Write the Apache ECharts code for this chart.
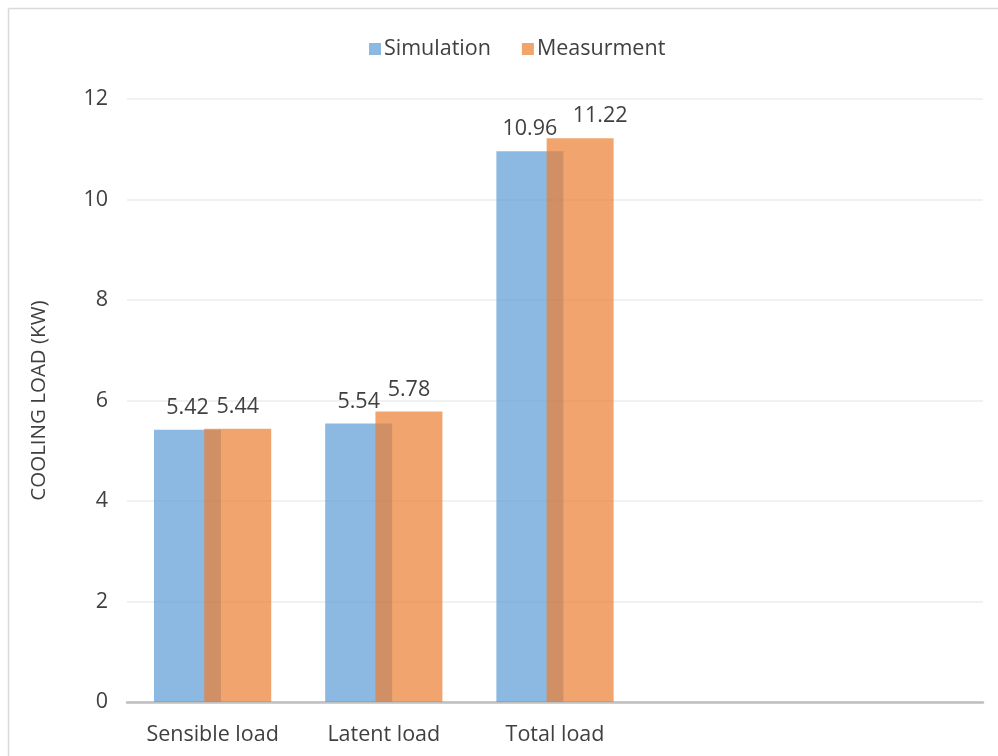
<!DOCTYPE html>
<html>
<head>
<meta charset="utf-8">
<script src="https://cdn.jsdelivr.net/npm/echarts@6/dist/echarts.min.js"></script>
<style>
  html, body { margin: 0; padding: 0; background: #fff; overflow: hidden; }
  #chart { width: 998px; height: 756px; }
</style>
</head>
<body>
<div id="chart"></div>
<script>
// Load categories (two trailing empty slots keep the right side of the plot open)
const categories = ['Sensible load', 'Latent load', 'Total load', '', ''];
const simulation = [5.42, 5.54, 10.96, '-', '-'];
const measurement = [5.44, 5.78, 11.22, '-', '-'];
const yTicks = { min: 0, max: 12, interval: 2 };

const FONT = 'Open Sans';
const TEXT = '#404040';
const FS = 21.5;

const chart = echarts.init(document.getElementById('chart'), null, { renderer: 'canvas' });

const valueLabel = {
  show: true,
  position: 'top',
  distance: 11,
  color: TEXT,
  fontFamily: FONT,
  fontSize: FS
};

// the Total load measurement label is nudged right so it clears its neighbour
const measurementData = measurement.map((v, i) =>
  i === 2 ? { value: v, label: { offset: [20, 0] } } : v
);

chart.setOption({
  backgroundColor: '#ffffff',
  animation: false,
  // chart frame: top and left edges (the rest runs off the page)
  graphic: [
    {
      type: 'line',
      shape: { x1: 8.5, y1: 8.5, x2: 998, y2: 8.5 },
      style: { stroke: '#d9d9d9', lineWidth: 1.5 },
      silent: true
    },
    {
      type: 'line',
      shape: { x1: 8.5, y1: 8.5, x2: 8.5, y2: 756 },
      style: { stroke: '#d9d9d9', lineWidth: 1.5 },
      silent: true
    }
  ],
  legend: {
    top: 33,
    left: 364,
    itemWidth: 12,
    itemHeight: 12,
    itemGap: 31,
    icon: 'rect',
    textStyle: { color: TEXT, fontFamily: FONT, fontSize: FS, padding: [0, 0, 0, -2] },
    data: ['Simulation', 'Measurment']
  },
  grid: { left: 127, right: 15, top: 99, bottom: 54, containLabel: false },
  xAxis: {
    type: 'category',
    data: categories,
    axisLine: { show: true, lineStyle: { color: '#bfbfbf', width: 2.5 } },
    axisTick: { show: false },
    axisLabel: { color: TEXT, fontFamily: FONT, fontSize: FS, margin: 22, interval: 0 }
  },
  yAxis: {
    type: 'value',
    min: yTicks.min,
    max: yTicks.max,
    interval: yTicks.interval,
    name: 'COOLING LOAD (KW)',
    nameLocation: 'middle',
    nameGap: 77,
    nameRotate: 90,
    nameTextStyle: { color: TEXT, fontFamily: FONT, fontSize: 20.5 },
    axisLine: { show: false },
    axisTick: { show: false },
    axisLabel: { color: TEXT, fontFamily: FONT, fontSize: FS, margin: 19 },
    splitLine: { lineStyle: { color: '#ececec', width: 1.5 } }
  },
  series: [
    {
      name: 'Simulation',
      type: 'bar',
      data: simulation,
      barWidth: 67,
      barGap: '-25%',
      itemStyle: { color: 'rgba(91,155,213,0.7)' },
      label: valueLabel
    },
    {
      name: 'Measurment',
      type: 'bar',
      data: measurementData,
      barWidth: 67,
      barGap: '-25%',
      itemStyle: { color: 'rgba(237,125,49,0.7)' },
      label: valueLabel
    }
  ]
});
</script>
</body>
</html>
